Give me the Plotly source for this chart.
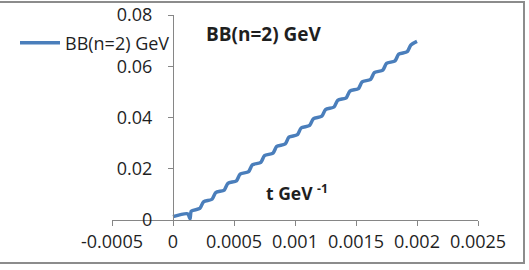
import plotly.graph_objects as go

# data
t_vals = [0.0, 0.00012, 0.00014,
          0.00015, 0.00022, 0.00025, 0.00032, 0.00035, 0.00042, 0.00045, 0.00052,
          0.00055, 0.00062, 0.00065, 0.00072, 0.00075, 0.00082, 0.00085, 0.00092,
          0.00095, 0.00102, 0.00105, 0.00112, 0.00115, 0.00122, 0.00125, 0.00132,
          0.00135, 0.00142, 0.00145, 0.00152, 0.00155, 0.00162, 0.00165, 0.00172,
          0.00175, 0.00182, 0.00185, 0.00192, 0.00195, 0.00200]
bb_vals = [0.0013, 0.0024, 0.0005,
           0.0035, 0.0045, 0.0071, 0.0081, 0.0107, 0.0117, 0.0143, 0.0153,
           0.0179, 0.0189, 0.0215, 0.0225, 0.0251, 0.0261, 0.0287, 0.0297,
           0.0323, 0.0333, 0.0359, 0.0369, 0.0395, 0.0405, 0.0431, 0.0441,
           0.0467, 0.0477, 0.0503, 0.0513, 0.0539, 0.0549, 0.0575, 0.0585,
           0.0611, 0.0621, 0.0647, 0.0657, 0.0683, 0.0697]
series_name = "BB(n=2) GeV"
x_tick_vals = [-0.0005, 0, 0.0005, 0.001, 0.0015, 0.002, 0.0025]
x_tick_text = ["-0.0005", "0", "0.0005", "0.001", "0.0015", "0.002", "0.0025"]
y_tick_vals = [0, 0.02, 0.04, 0.06, 0.08]
y_tick_text = ["0", "0.02", "0.04", "0.06", "0.08"]

W, H = 529, 270
L, R, T, B = 112, 51, 15, 50
pw, ph = W - L - R, H - T - B

def px(x):
    return (x - L) / pw

def py(y):
    return (H - B - y) / ph

FONT = "Open Sans"
FS = 18
TXT = "#1f1f1f"
AX = "#868686"

fig = go.Figure()
fig.add_trace(go.Scatter(
    x=t_vals, y=bb_vals, mode="lines", name=series_name,
    line=dict(color="#4A7EBB", width=3.5, shape="spline", smoothing=0.7),
    showlegend=True,
))

fig.update_layout(
    template="none",
    width=W, height=H,
    margin=dict(l=L, r=R, t=T, b=B, pad=0, autoexpand=False),
    paper_bgcolor="white", plot_bgcolor="white",
    font=dict(family=FONT, size=FS, color=TXT),
    showlegend=True,
    legend=dict(x=px(15), y=py(43), xanchor="left", yanchor="middle",
                bgcolor="rgba(0,0,0,0)", borderwidth=0,
                font=dict(family=FONT, size=18, color=TXT), itemwidth=40),
    xaxis=dict(range=[-0.0005, 0.0025], domain=[0, 1], automargin=False,
               tickvals=x_tick_vals, ticktext=x_tick_text, tickangle=0,
               showgrid=False, zeroline=False, showline=True,
               linecolor=AX, linewidth=1, ticks="outside", ticklen=5,
               tickcolor=AX, tickfont=dict(family=FONT, size=FS, color=TXT)),
    yaxis=dict(range=[0, 0.08], domain=[0, 1], anchor="free", position=1/6,
               automargin=False,
               tickvals=y_tick_vals, ticktext=y_tick_text,
               showgrid=False, zeroline=False, showline=True,
               linecolor=AX, linewidth=1, ticks="outside", ticklen=5,
               ticklabelstandoff=12,
               tickcolor=AX, tickfont=dict(family=FONT, size=FS, color=TXT)),
)

fig.add_annotation(x=px(204), y=py(34), xref="paper", yref="paper",
                   text="<b>BB(n=2) GeV</b>", showarrow=False,
                   xanchor="left", yanchor="middle",
                   font=dict(family=FONT, size=19, color=TXT))
fig.add_annotation(x=px(264), y=py(192), xref="paper", yref="paper",
                   text="<b>t GeV <sup>-1</sup></b>", showarrow=False,
                   xanchor="left", yanchor="middle",
                   font=dict(family=FONT, size=17.5, color=TXT))

fig.add_shape(type="rect", xref="paper", yref="paper",
              x0=px(-2), x1=px(524), y0=py(263), y1=py(2),
              line=dict(color="#8c8c8c", width=2), fillcolor="rgba(0,0,0,0)",
              layer="below")

fig.write_html("out.html")
